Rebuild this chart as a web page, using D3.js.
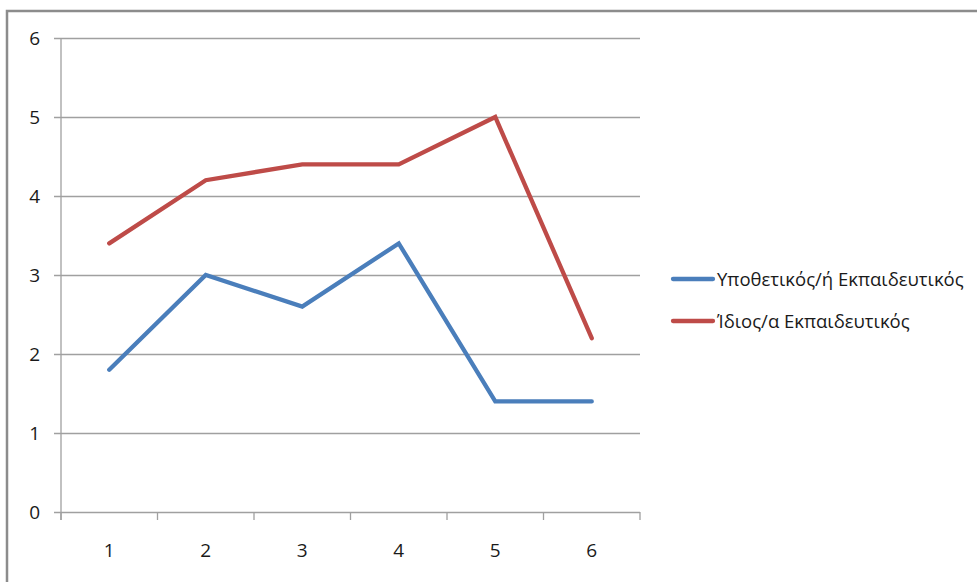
<!DOCTYPE html>
<html>
<head>
<meta charset="utf-8">
<script src="https://cdn.jsdelivr.net/npm/d3@7"></script>
<style>
  html, body { margin: 0; padding: 0; background: #fff; overflow: hidden; }
  svg { display: block; }
  text { font-family: "Open Sans", "Noto Sans", sans-serif; fill: #1a1a1a; }
</style>
</head>
<body>
<svg id="chart" width="977" height="582"></svg>
<script>
// Data
const categories = ["1", "2", "3", "4", "5", "6"];
const hypotheticalTeacher = [1.8, 3.0, 2.6, 3.4, 1.4, 1.4];
const ownTeacher = [3.4, 4.2, 4.4, 4.4, 5.0, 2.2];
const seriesNames = ["Υποθετικός/ή Εκπαιδευτικός", "Ίδιος/α Εκπαιδευτικός"];
const yTicks = [0, 1, 2, 3, 4, 5, 6];

const series = [
  { name: seriesNames[0], values: hypotheticalTeacher, color: "#4a7ebb" },
  { name: seriesNames[1], values: ownTeacher, color: "#be4b48" }
];

const svg = d3.select("#chart");

// Outer frame
svg.append("rect")
  .attr("x", 7).attr("y", 11)
  .attr("width", 1000).attr("height", 600)
  .attr("fill", "none")
  .attr("stroke", "#8c8c8c")
  .attr("stroke-width", 2.5);

const plot = { left: 61, right: 640, top: 38, bottom: 512 };

const x = d3.scaleBand().domain(categories).range([plot.left, plot.right]);
const y = d3.scaleLinear().domain([0, 6]).range([plot.bottom, plot.top]);

// Horizontal gridlines with left tick stubs
svg.append("g")
  .attr("transform", `translate(${plot.right},0)`)
  .call(d3.axisLeft(y).tickValues(yTicks).tickSize(plot.right - plot.left + 7).tickFormat(""))
  .call(g => g.select(".domain").remove())
  .call(g => g.selectAll("line").attr("stroke", "#a0a0a0").attr("stroke-width", 1.3));

// Vertical axis line
svg.append("line")
  .attr("x1", plot.left).attr("x2", plot.left)
  .attr("y1", plot.top).attr("y2", plot.bottom + 8)
  .attr("stroke", "#a0a0a0").attr("stroke-width", 1.3);

// Y labels
svg.append("g").selectAll("text")
  .data(yTicks)
  .join("text")
  .attr("x", 40)
  .attr("y", d => y(d))
  .attr("dy", "0.36em")
  .attr("text-anchor", "end")
  .attr("font-size", 19)
  .text(d => d);

// X axis category boundary ticks
const boundaries = categories.map(c => x(c)).concat([plot.right]);
svg.append("g").selectAll("line")
  .data(boundaries)
  .join("line")
  .attr("x1", d => d).attr("x2", d => d)
  .attr("y1", plot.bottom).attr("y2", plot.bottom + 8)
  .attr("stroke", "#a0a0a0").attr("stroke-width", 1.3);

// X labels
svg.append("g").selectAll("text")
  .data(categories)
  .join("text")
  .attr("x", d => x(d) + x.bandwidth() / 2)
  .attr("y", 550)
  .attr("dy", "0.36em")
  .attr("text-anchor", "middle")
  .attr("font-size", 19)
  .text(d => d);

// Lines
const line = d3.line()
  .x((d, i) => x(categories[i]) + x.bandwidth() / 2)
  .y(d => y(d));

svg.append("g").selectAll("path")
  .data(series)
  .join("path")
  .attr("d", d => line(d.values))
  .attr("fill", "none")
  .attr("stroke", d => d.color)
  .attr("stroke-width", 4.3)
  .attr("stroke-linejoin", "miter")
  .attr("stroke-linecap", "round");

// Legend
const legend = svg.append("g");
const legendY = [279, 321];
series.forEach((s, i) => {
  legend.append("line")
    .attr("x1", 673).attr("x2", 713)
    .attr("y1", legendY[i]).attr("y2", legendY[i])
    .attr("stroke", s.color)
    .attr("stroke-width", 4.3)
    .attr("stroke-linecap", "round");
  legend.append("text")
    .attr("x", 717)
    .attr("y", legendY[i])
    .attr("dy", "0.36em")
    .attr("font-size", 18.5)
    .text(s.name);
});
</script>
</body>
</html>
